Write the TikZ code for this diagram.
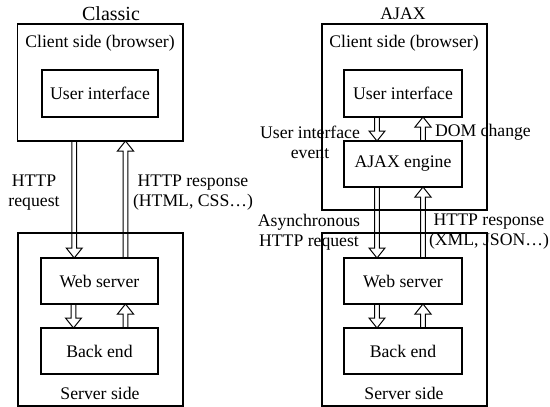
\documentclass[tikz,border=0pt]{standalone}
\usepackage{fontspec}
\setmainfont{Liberation Serif}
\usetikzlibrary{calc}
\begin{document}
\begin{tikzpicture}[x=1pt,y=-1pt,
  every node/.style={font=\fontsize{17.7}{20}\selectfont, inner sep=0pt, outer sep=0pt},
  box/.style={draw, line width=1.3pt, rectangle},
  lab/.style={align=center},
  harrow/.style={line width=1pt, line join=miter, to path={
    let \p1=(\tikztostart), \p2=(\tikztotarget), \n1={sign(\y2-\y1)} in
    (\x1-2.3pt,\y1) -- (\x1-2.3pt,{\y2-(\n1)*10pt}) -- (\x1-8pt,{\y2-(\n1)*10pt}) -- (\x1,\y2)
    -- (\x1+8pt,{\y2-(\n1)*10pt}) -- (\x1+2.3pt,{\y2-(\n1)*10pt}) -- (\x1+2.3pt,\y1)}}
]
\useasboundingbox (0,0) rectangle (550,407);
% ---------- Classic ----------
\node[font=\fontsize{20}{22}\selectfont] (title1) at (111,13.5) {Classic};
\node[box, minimum width=165.5pt, minimum height=117pt] (cl1) at (100.25,82.5) {};
\node (cl1lab) at (100,43.5) {Client side (browser)};
\node[box, minimum width=116pt, minimum height=47pt] (ui1) at (100,93.5) {User interface};
\node[box, minimum width=165pt, minimum height=173pt] (sv1) at (100.5,319.5) {};
\node[box, minimum width=117pt, minimum height=46pt] (ws1) at (99.5,281) {Web server};
\node[box, minimum width=117pt, minimum height=46pt] (be1) at (99.5,351) {Back end};
\node (sv1lab) at (100,393) {Server side};
\node[lab] (req1) at (34,193) {HTTP\\request};
\node[lab] (resp1) at (193,193) {HTTP response\\(HTML, CSS…)};
\draw[harrow] ([xshift=-26pt]cl1.south) to ([xshift=-26pt]ws1.north);
\draw[harrow] ([xshift=26pt]ws1.north) to ([xshift=26pt]cl1.south);
\draw[harrow] ([xshift=-26pt]ws1.south) to ([xshift=-26pt]be1.north);
\draw[harrow] ([xshift=26pt]be1.north) to ([xshift=26pt]ws1.south);
% ---------- AJAX ----------
\node (title2) at (403,14) {AJAX};
\node[box, minimum width=165pt, minimum height=186pt] (cl2) at (404.5,117) {};
\node (cl2lab) at (404,43.5) {Client side (browser)};
\node[box, minimum width=118pt, minimum height=47pt] (ui2) at (403,93.5) {User interface};
\node[box, minimum width=118pt, minimum height=46pt] (en2) at (403,164) {AJAX engine};
\node[box, minimum width=165pt, minimum height=173pt] (sv2) at (404.5,319.5) {};
\node[box, minimum width=118pt, minimum height=46pt] (ws2) at (403,281) {Web server};
\node[box, minimum width=118pt, minimum height=46pt] (be2) at (403,351) {Back end};
\node (sv2lab) at (404,393) {Server side};
\node[lab] (uiev) at (310,142) {User interface\\event};
\node[anchor=west] (dom) at (435,132) {DOM change};
\node[lab] (req2) at (309,232) {Asynchronous\\HTTP request};
\node[lab] (resp2) at (489,232) {HTTP response\\(XML, JSON…)};
\draw[harrow] ([xshift=-26pt]ui2.south) to ([xshift=-26pt]en2.north);
\draw[harrow] ([xshift=20pt]en2.north) to ([xshift=20pt]ui2.south);
\draw[harrow] ([xshift=-26pt]en2.south) to ([xshift=-26pt]ws2.north);
\draw[harrow] ([xshift=20pt]ws2.north) to ([xshift=20pt]en2.south);
\draw[harrow] ([xshift=-26pt]ws2.south) to ([xshift=-26pt]be2.north);
\draw[harrow] ([xshift=20pt]be2.north) to ([xshift=20pt]ws2.south);
\end{tikzpicture}
\end{document}
